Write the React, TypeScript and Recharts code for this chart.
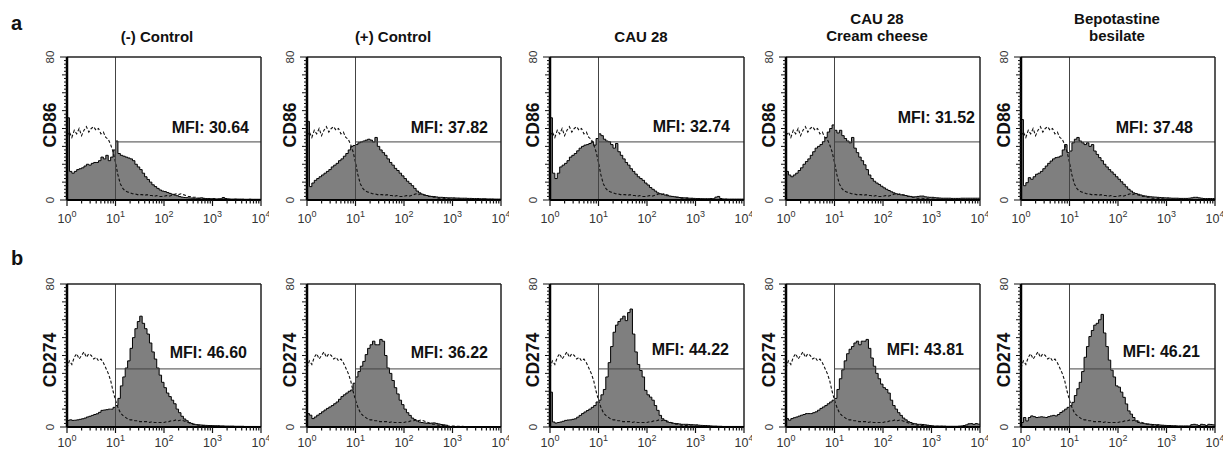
import { ComposedChart, Area, Line, XAxis, YAxis, ReferenceLine } from 'recharts'

// fluorescence channels, 20 per decade (log spaced)
const CHANNELS = [
  1, 1.122, 1.259, 1.413, 1.585, 1.778, 1.995, 2.239, 2.512, 2.818, 3.162, 3.548, 3.981, 4.467, 5.012, 5.623, 6.31, 7.079, 7.943, 8.913,
  10, 11.22, 12.59, 14.13, 15.85, 17.78, 19.95, 22.39, 25.12, 28.18, 31.62, 35.48, 39.81, 44.67, 50.12, 56.23, 63.1, 70.79, 79.43, 89.13,
  100, 112.2, 125.9, 141.3, 158.5, 177.8, 199.5, 223.9, 251.2, 281.8, 316.2, 354.8, 398.1, 446.7, 501.2, 562.3, 631, 707.9, 794.3, 891.3,
  1000, 1122, 1259, 1413, 1585, 1778, 1995, 2239, 2512, 2818, 3162, 3548, 3981, 4467, 5012, 5623, 6310, 7079, 7943, 8913,
  10000,
]

const X_TICKS = [
  1, 2, 3, 4, 5, 6, 7, 8, 9,
  10, 20, 30, 40, 50, 60, 70, 80, 90,
  100, 200, 300, 400, 500, 600, 700, 800, 900,
  1000, 2000, 3000, 4000, 5000, 6000, 7000, 8000, 9000,
  10000,
]
const DECADES = [1, 10, 100, 1000, 10000]
const Y_TICKS = [
  0, 2, 4, 6, 8, 10, 12, 14, 16, 18, 20, 22, 24, 26, 28, 30, 32, 34, 36, 38, 40,
  42, 44, 46, 48, 50, 52, 54, 56, 58, 60, 62, 64, 66, 68, 70, 72, 74, 76, 78, 80,
]
const GATE_X = 10
const GATE_Y = 32.5

// isotype controls (dashed)
const CONTROL_A = [
  36, 38, 35, 39, 37, 40, 36, 39, 41, 38, 40, 41, 39, 40, 37, 38, 35, 34, 31, 27,
  21, 14, 9, 6.5, 5, 4.5, 4, 3.5, 3.5, 3, 3, 3, 2.5, 3, 2.5, 2.5, 2, 2.5, 2, 2,
  2, 2.5, 2, 2.5, 3, 3.5, 3, 3.5, 3, 2.5, 2, 2, 1.5, 1.5, 1, 1, 1, 0.8, 0.8, 0.6,
  0.6, 0.5, 0.5, 0.5, 0.5, 0.4, 0.4, 0.4, 0.3, 0.3, 0.3, 0.3, 0.3, 0.3, 0.2, 0.2, 0.2, 0.2, 0.2, 0.2,
  0.2,
]
const CONTROL_B = [
  33, 37, 35, 39, 41, 38, 40, 42, 39, 41, 40, 38, 39, 37, 38, 36, 33, 30, 26, 20,
  15, 11, 8, 6.5, 5.5, 4.5, 4, 4, 3.5, 3.5, 3, 3, 3, 3, 2.5, 3, 2.5, 2.5, 2.5, 2.5,
  2.5, 3, 3, 3.5, 3.5, 4, 3.5, 4, 3.5, 3, 2.5, 2, 1.5, 1.5, 1, 1, 0.8, 0.8, 0.6, 0.6,
  0.5, 0.5, 0.4, 0.4, 0.4, 0.3, 0.3, 0.3, 0.3, 0.2, 0.2, 0.2, 0.2, 0.2, 0.2, 0.2, 0.2, 0.2, 0.2, 0.2,
  0.2,
]

// CD86 samples
const A1 = [
  46, 16, 15, 16, 17, 17.5, 18, 19, 20, 19.5, 20.5, 21, 21, 22, 24, 23, 25, 22, 24, 28,
  33, 26, 25, 24.5, 24, 23.5, 23, 22, 20, 18.5, 17, 15, 13, 11.5, 10, 8.5, 7.5, 6.5, 5.6, 5,
  4.7, 4.2, 3.7, 3.2, 2.8, 2.4, 1.9, 1.6, 1.4, 1.3, 1.2, 1.1, 1, 1, 1, 1.2, 0.9, 0.8, 0.8, 0.7,
  0.8, 0.6, 0.6, 0.7, 1.4, 0.8, 0.6, 0.5, 0.5, 0.6, 0.5, 0.5, 0.5, 0.4, 0.4, 0.5, 0.4, 0.4, 0.4, 0.4,
  0.4,
]
const A2 = [
  44, 7.5, 9.5, 11, 12, 13, 14, 15, 16, 17, 18.5, 19.5, 20.5, 22, 23, 24.5, 26, 28, 30, 30.5,
  31, 32, 32.5, 33, 33.5, 34, 33.5, 32.5, 35, 30, 28, 26.5, 25, 23, 21, 19.5, 17.7, 16.5, 15, 13.5,
  12, 10.5, 9.3, 8, 6.5, 5, 4, 3.3, 2.8, 2.5, 2.2, 2, 1.9, 1.7, 1.5, 1.5, 1.4, 1.3, 1.2, 1.2,
  1.2, 1.1, 1.1, 1, 1, 1, 0.9, 0.9, 0.8, 0.8, 0.8, 0.7, 0.7, 0.7, 0.6, 0.6, 0.6, 0.5, 0.5, 0.5,
  0.5,
]
const A3 = [
  46, 15, 12, 15, 18.5, 19.5, 20.5, 22, 24, 25, 26, 27.5, 29, 30, 30.7, 31, 31.6, 32.6, 30.7, 34.4,
  37, 36, 34, 33, 32.6, 31, 29, 31.6, 27, 25, 23, 21, 19.5, 17.5, 16, 14.5, 13, 12, 11, 9.5,
  8.4, 7, 6, 5, 4, 3.5, 3.2, 2.8, 2.4, 2.2, 2, 1.8, 1.6, 1.4, 1.3, 1.2, 1.2, 1, 1, 0.9,
  0.8, 0.8, 0.7, 0.7, 0.7, 0.7, 0.8, 0.7, 1.6, 2, 0.8, 0.6, 0.6, 0.5, 0.5, 0.5, 0.5, 0.5, 0.5, 0.5,
  0.5,
]
const A4 = [
  16, 14, 13, 14, 15, 16.5, 18, 20, 21.5, 23, 25, 27, 29, 30, 31, 32.6, 35, 38, 40, 42,
  39, 37.5, 39, 36, 34.4, 33, 32, 35, 29, 26.5, 24, 22, 19.7, 17, 14, 12, 10.5, 9.5, 8.7, 7.7,
  6.8, 6, 5.3, 4.6, 4, 3.5, 3.1, 2.9, 2.8, 2.5, 2.2, 2, 1.7, 1.8, 2, 2.2, 2.2, 1.8, 1.6, 1.5,
  1.5, 1.3, 1.2, 1.1, 1, 1, 1, 1, 0.9, 0.9, 0.9, 0.9, 1, 1, 1, 1, 1, 1, 1, 1,
  1,
]
const A5 = [
  45, 8, 9.7, 12.5, 11.6, 13, 14.4, 15, 16, 17.5, 19, 20.5, 21.8, 23, 23.7, 24, 24.6, 28, 31, 26.5,
  27.4, 32, 34, 35, 33, 32, 31, 32, 30, 31, 27.4, 25.5, 23.7, 22, 20, 18.5, 17, 15.7, 14.4, 13,
  11.6, 10.2, 8.8, 7.4, 6, 5, 4, 3.6, 3.2, 2.8, 2.4, 2.2, 2, 1.8, 1.7, 1.6, 1.5, 1.4, 1.3, 1.2,
  1.2, 1.1, 1, 1, 1, 0.9, 0.9, 0.9, 0.9, 1, 1.2, 1.5, 1.5, 1.2, 1, 0.8, 0.8, 0.8, 0.8, 0.8,
  0.8,
]

// CD274 samples
const B1 = [
  3.7, 4, 3.7, 3.8, 4, 4.3, 4.6, 5, 5.6, 6, 6.5, 7, 7.4, 8.2, 9.3, 9.5, 9.7, 10, 10, 11,
  12, 16, 23, 28, 33, 37, 44, 50, 55, 59, 62, 58, 55, 52, 47, 42, 38, 33, 29, 25,
  22, 19, 17, 15, 13, 10, 8, 6, 4.5, 3.5, 2.5, 2, 1.5, 1.3, 1.2, 1.1, 1, 0.9, 0.8, 0.8,
  0.7, 0.7, 0.7, 0.6, 0.6, 0.5, 0.5, 0.5, 0.5, 0.4, 0.4, 0.4, 0.4, 0.3, 0.3, 0.3, 0.3, 0.3, 0.3, 0.3,
  0.3,
]
const B2 = [
  7.5, 6.6, 4.7, 5.6, 6.6, 7.5, 8.5, 9.5, 10.4, 11.2, 12, 13, 14, 15.5, 17, 18, 19, 20, 20.7, 24.5,
  28, 31, 34, 36.7, 40.5, 44, 46, 48, 46, 46, 49, 48, 40, 33, 30, 26, 22, 18.5, 15, 12.5,
  10, 8, 6.5, 5, 4.2, 3.4, 2.8, 2.5, 2.3, 2.1, 2, 2.2, 2.3, 2, 1.7, 1.4, 1.2, 1, 0, 0,
  0, 0, 0, 0, 0, 0, 0, 0, 0, 0, 0, 0, 0, 0, 0, 0, 0, 0, 0, 0,
  0,
]
const B3 = [
  19.5, 2.8, 2.2, 2.5, 2.8, 3.2, 3.7, 3.9, 4, 4.3, 4.6, 5.5, 6.5, 7.5, 8.4, 9.2, 10, 11, 12, 14,
  15, 18, 21, 28, 36, 45, 53, 57, 59, 60.5, 62, 59.5, 64, 66, 52, 42, 35, 31.6, 28, 20.5,
  18, 16.7, 15, 12, 9.3, 6.5, 4.6, 3.7, 2.8, 2.5, 2.2, 2, 1.9, 1.7, 1.5, 1.5, 1.5, 1.4, 1.3, 1.2,
  1.2, 1, 0.9, 0.8, 0.8, 0.7, 0.6, 0.5, 0.5, 0.4, 0.4, 0.3, 0.3, 0.3, 0.3, 0.3, 0.3, 0.3, 0.3, 0.3,
  0.3,
]
const B4 = [
  4.7, 3.8, 4.7, 5.2, 5.6, 6.1, 6.6, 7, 7.5, 7.5, 7.5, 8, 8.5, 9.4, 10.4, 11.2, 12, 13, 14, 15,
  16, 21, 27, 32, 37, 41, 43.5, 45, 47, 48, 46, 48, 48, 49, 44, 38.6, 34, 30, 27, 24,
  22, 21, 19, 15, 12, 10, 8, 6.5, 5, 4, 3, 2.5, 2, 1.8, 1.5, 1.5, 1.4, 1.2, 1, 0.8,
  0.6, 0.5, 0.5, 0.5, 0.5, 0.5, 0.4, 0.4, 0.4, 0.4, 0.4, 0.5, 0.6, 0.8, 1.2, 1.8, 1.9, 1.5, 1.9, 1.6,
  1.2,
]
const B5 = [
  2.5, 5.3, 3.4, 5.3, 6.2, 5.8, 5.3, 5.5, 5.7, 5.5, 5.3, 5.8, 6.2, 6.5, 6.2, 7, 8.1, 9, 10, 11,
  11.9, 13.8, 17.6, 21.4, 25, 31, 39, 45, 50.6, 54, 57, 58, 60, 63, 52.6, 45, 37.4, 31.8, 28, 23,
  22.3, 19.5, 16.6, 12.9, 9, 7.2, 5.3, 3.4, 2.5, 2.2, 2, 1.8, 1.7, 1.5, 1.4, 1.3, 1.3, 1.1, 1, 0.9,
  0.8, 0.8, 0.7, 0.7, 0.6, 0.6, 0.6, 0.6, 0.6, 0.6, 1.3, 1.5, 1.2, 0.8, 1.5, 1.3, 0.8, 1.5, 1.4, 1.2,
  1,
]

const TITLES = [['(-) Control'], ['(+) Control'], ['CAU 28'], ['CAU 28', 'Cream cheese'], ['Bepotastine', 'besilate']]
const MARKERS = ['CD86', 'CD274']
const ROW_LETTERS = ['a', 'b']
const MFI = [
  ['MFI: 30.64', 'MFI: 37.82', 'MFI: 32.74', 'MFI: 31.52', 'MFI: 37.48'],
  ['MFI: 46.60', 'MFI: 36.22', 'MFI: 44.22', 'MFI: 43.81', 'MFI: 46.21'],
]
const SAMPLES = [[A1, A2, A3, A4, A5], [B1, B2, B3, B4, B5]]
const CONTROLS = [CONTROL_A, CONTROL_B]

// layout
const FONT = '"Liberation Sans", Arial, Helvetica, sans-serif'
const PANEL_LEFT = [67, 307, 550, 786, 1021]
const ROW_TOP = [57, 284]
const PLOT_W = 194
const PLOT_H = 143
const ML = 40
const MR = 8
const MT = 10
const MB = 30
const AXIS_SIZE = 1
const TITLE_X = [157, 393, 641, 877, 1117]
const MFI_RIGHT = [[182, 181, 180, 189, 172], [180, 181, 179, 178, 179]]
const MFI_BASE = [[133, 133, 132, 123, 133], [358, 358, 355, 355, 357]]
const MARKER_Y = [125, 360]
const LETTER_Y = [30, 265]
const XLABEL_DY = [22.5, 19.5]

function XTick(props: any) {
  const { x, y, payload, labelDy } = props
  const v = payload.value
  const k = DECADES.indexOf(v)
  return (
    <g>
      <line x1={x} x2={x} y1={y} y2={y + (k >= 0 ? 6 : 3.5)} stroke="#111" strokeWidth={1.2} />
      {k >= 0 && (
        <text x={x} y={y + labelDy} textAnchor="middle" fontSize={12.5} fill="#333" fontFamily={FONT}>
          <tspan>10</tspan>
          <tspan dy={-5.5} fontSize={9}>{k}</tspan>
        </text>
      )}
    </g>
  )
}

function YTick(props: any) {
  const { x, y, payload } = props
  const v = payload.value
  const edge = v === 0 || v === 80
  const len = edge ? 7 : v % 10 === 0 ? 5 : 3
  return (
    <g>
      <line x1={x - len} x2={x} y1={y} y2={y} stroke="#111" strokeWidth={1} />
      {edge && (
        <text transform={`translate(${x - 13},${y}) rotate(-90)`} textAnchor="middle" fontSize={11.5} fill="#333" fontFamily={FONT}>
          {v}
        </text>
      )}
    </g>
  )
}

function Histogram({ sample, control, left, top, labelDy }: { sample: number[]; control: number[]; left: number; top: number; labelDy: number }) {
  const rows = CHANNELS.map((ch, i) => ({ ch, sample: sample[i], control: control[i] }))
  return (
    <div style={{ position: 'absolute', left: left - ML, top: top - MT }}>
      <ComposedChart
        width={PLOT_W + ML + MR}
        height={PLOT_H + MT + MB}
        data={rows}
        margin={{ top: MT, right: MR, bottom: MB - AXIS_SIZE, left: ML - AXIS_SIZE }}
      >
        <XAxis
          dataKey="ch"
          type="number"
          scale="log"
          domain={[1, 10000]}
          ticks={X_TICKS}
          interval={0}
          allowDataOverflow
          height={AXIS_SIZE}
          tickSize={0}
          tickMargin={0}
          tickLine={false}
          tick={<XTick labelDy={labelDy} />}
          axisLine={{ stroke: '#000', strokeWidth: 2 }}
        />
        <YAxis
          type="number"
          domain={[0, 80]}
          ticks={Y_TICKS}
          interval={0}
          allowDataOverflow
          width={AXIS_SIZE}
          tickSize={0}
          tickMargin={0}
          tickLine={false}
          tick={<YTick />}
          axisLine={{ stroke: '#000', strokeWidth: 2.5 }}
        />
        <Area
          dataKey="sample"
          type="stepAfter"
          stroke="#000"
          strokeWidth={1}
          fill="#7f7f7f"
          fillOpacity={1}
          isAnimationActive={false}
          dot={false}
          activeDot={false}
        />
        <Line
          dataKey="control"
          type="linear"
          stroke="#111"
          strokeWidth={1.1}
          strokeDasharray="3 2"
          isAnimationActive={false}
          dot={false}
          activeDot={false}
        />
        <ReferenceLine x={GATE_X} stroke="#444" strokeWidth={1} />
        <ReferenceLine segment={[{ x: GATE_X, y: GATE_Y }, { x: 10000, y: GATE_Y }]} stroke="#444" strokeWidth={1} />
        <ReferenceLine y={80} stroke="#222" strokeWidth={1.5} />
        <ReferenceLine x={10000} stroke="#222" strokeWidth={1.5} />
      </ComposedChart>
    </div>
  )
}

export default function App() {
  return (
    <div style={{ position: 'absolute', left: 0, top: 0, width: 1224, height: 449, overflow: 'hidden', background: '#fff', fontFamily: FONT }}>
      {SAMPLES.map((row, r) =>
        row.map((s, c) => (
          <Histogram
            key={`${r}-${c}`}
            sample={s}
            control={CONTROLS[r]}
            left={PANEL_LEFT[c]}
            top={ROW_TOP[r]}
            labelDy={XLABEL_DY[r]}
          />
        ))
      )}
      <svg width={1224} height={449} style={{ position: 'absolute', left: 0, top: 0, pointerEvents: 'none' }} fontFamily={FONT}>
        {ROW_LETTERS.map((l, r) => (
          <text key={l} x={11} y={LETTER_Y[r]} fontSize={20} fontWeight="bold" fill="#111">{l}</text>
        ))}
        {TITLES.map((lines, c) =>
          lines.map((t, j) => (
            <text
              key={`${c}-${j}`}
              x={TITLE_X[c]}
              y={lines.length === 1 ? 42 : j === 0 ? 24 : 41}
              textAnchor="middle"
              fontSize={15}
              fontWeight="bold"
              fill="#111"
            >
              {t}
            </text>
          ))
        )}
        {MARKERS.map((m, r) =>
          PANEL_LEFT.map((x, c) => (
            <text
              key={`${m}-${c}`}
              transform={`translate(${x - 11.5},${MARKER_Y[r]}) rotate(-90)`}
              textAnchor="middle"
              fontSize={17.5}
              fontWeight="bold"
              fill="#111"
            >
              {m}
            </text>
          ))
        )}
        {MFI.map((row, r) =>
          row.map((t, c) => (
            <text
              key={`${r}-${c}`}
              x={PANEL_LEFT[c] + MFI_RIGHT[r][c]}
              y={MFI_BASE[r][c]}
              textAnchor="end"
              fontSize={16}
              fontWeight="bold"
              fill="#111"
            >
              {t}
            </text>
          ))
        )}
      </svg>
    </div>
  )
}
